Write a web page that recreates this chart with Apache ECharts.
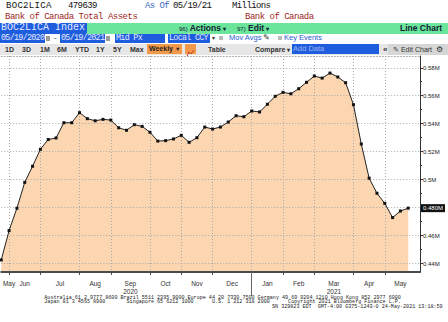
<!DOCTYPE html>
<html><head><meta charset="utf-8">
<script src="https://cdn.jsdelivr.net/npm/echarts@6/dist/echarts.min.js"></script>
<style>
html,body{margin:0;padding:0;background:#fff;width:448px;height:322px;overflow:hidden;}
#chart{position:absolute;left:0;top:0;width:448px;height:322px;}
.t{position:absolute;white-space:pre;}
.mono{font-family:'Liberation Mono','DejaVu Sans Mono',monospace;}
.sans{font-family:'Liberation Sans',Arial,sans-serif;}
.bar{position:absolute;left:0;width:448px;}
.box{position:absolute;background:#1f5ddf;color:#e4e9ff;}
.ico{position:absolute;background:#9a9a9a;}
</style></head><body>
<div id="chart"></div>

<!-- header rows 1-2 -->
<div class="t mono" style="left:6px;top:0;line-height:12px;font-size:9px;letter-spacing:0.3px;color:#111">BOC2LICA</div>
<div class="t mono" id="lastVal" style="left:68px;top:0;line-height:12px;font-size:9px;letter-spacing:-0.6px;color:#111"></div>
<div class="t mono" style="left:145px;top:0;line-height:12px;font-size:9px;letter-spacing:-0.6px;color:#3a68c2">As Of</div>
<div class="t mono" style="left:173px;top:0;line-height:12px;font-size:9px;letter-spacing:-0.6px;color:#111">05/19/21</div>
<div class="t mono" style="left:232px;top:0;line-height:12px;font-size:9px;letter-spacing:-0.6px;color:#111">Millions</div>
<div class="t mono" style="left:5px;top:11px;line-height:12px;font-size:9px;letter-spacing:-0.5px;color:#a11f1f">Bank of Canada Total Assets</div>
<div class="t mono" style="left:245px;top:11px;line-height:12px;font-size:9px;letter-spacing:-0.5px;color:#a11f1f">Bank of Canada</div>

<!-- row 3 -->
<div class="bar" style="top:23px;height:10.5px;background:#6be59b"></div>
<div class="box mono" style="left:0;top:23px;width:87px;height:10.5px;line-height:10.5px;font-size:10px;padding-left:1px;box-sizing:border-box">BOC2LICA Index</div>
<div class="t sans" style="left:179px;top:23px;line-height:10.5px;font-size:8.5px;color:#123;font-weight:bold"><span style="font-size:6px;font-weight:normal">96)</span> Actions <span style="font-size:6px">▾</span></div>
<div class="t sans" style="left:237px;top:23px;line-height:10.5px;font-size:8.5px;color:#123;font-weight:bold"><span style="font-size:6px;font-weight:normal">97)</span> Edit <span style="font-size:6px">▾</span></div>
<div class="t sans" style="left:400px;top:23px;line-height:10.5px;font-size:8.5px;color:#123;font-weight:bold">Line Chart</div>

<!-- row 4 -->
<div class="box mono" style="left:0;top:34px;width:45px;height:9px;line-height:9px;font-size:8.4px;letter-spacing:-0.7px;padding-left:1px;box-sizing:border-box">05/19/2020</div>
<div class="ico" style="left:46px;top:35.5px;width:4px;height:5px"></div>
<div class="t sans" style="left:54px;top:33px;line-height:10px;font-size:8px;color:#333">-</div>
<div class="box mono" style="left:60px;top:34px;width:45px;height:9px;line-height:9px;font-size:8.4px;letter-spacing:-0.7px;padding-left:1px;box-sizing:border-box">05/19/2021</div>
<div class="ico" style="left:106px;top:35.5px;width:4px;height:5px"></div>
<div class="box mono" style="left:115px;top:34px;width:50px;height:9px;line-height:9px;font-size:8.4px;letter-spacing:-0.7px;padding-left:1px;box-sizing:border-box">Mid Px</div>
<div class="box mono" style="left:168px;top:34px;width:42px;height:9px;line-height:9px;font-size:8.4px;letter-spacing:-0.7px;padding-left:1px;box-sizing:border-box">Local CCY</div>
<div class="t sans" style="left:212px;top:33px;line-height:10px;font-size:6px;color:#333">▾</div>
<div class="ico" style="left:219px;top:36px;width:4px;height:4px;background:#bbb"></div>
<div class="t sans" style="left:229px;top:33px;line-height:10px;font-size:7.5px;color:#2a5bd0">Mov Avgs <span style="color:#333">✎</span></div>
<div class="ico" style="left:278px;top:36px;width:4px;height:4px;background:#bbb"></div>
<div class="t sans" style="left:284px;top:33px;line-height:10px;font-size:7.5px;color:#2a5bd0">Key Events</div>

<!-- row 5 -->
<div class="bar" style="top:43.5px;height:11px;background:#e6e6e6"></div>
<div class="t sans" style="left:388px;top:43.5px;width:60px;height:11px;background:#d6d6d6"></div>
<div class="t sans" style="left:5px;top:43.5px;line-height:11px;font-size:7px;color:#333;font-weight:bold">1D</div>
<div class="t sans" style="left:22px;top:43.5px;line-height:11px;font-size:7px;color:#333;font-weight:bold">3D</div>
<div class="t sans" style="left:40px;top:43.5px;line-height:11px;font-size:7px;color:#333;font-weight:bold">1M</div>
<div class="t sans" style="left:57px;top:43.5px;line-height:11px;font-size:7px;color:#333;font-weight:bold">6M</div>
<div class="t sans" style="left:75px;top:43.5px;line-height:11px;font-size:7px;color:#333;font-weight:bold">YTD</div>
<div class="t sans" style="left:96px;top:43.5px;line-height:11px;font-size:7px;color:#333;font-weight:bold">1Y</div>
<div class="t sans" style="left:113px;top:43.5px;line-height:11px;font-size:7px;color:#333;font-weight:bold">5Y</div>
<div class="t sans" style="left:130px;top:43.5px;line-height:11px;font-size:7px;color:#333;font-weight:bold">Max</div>
<div class="t sans" style="left:147px;top:44px;width:35px;height:10px;line-height:10px;font-size:7px;background:#f3994a;color:#222;font-weight:bold;padding-left:2px;box-sizing:border-box">Weekly <span style="font-size:5.5px">▼</span></div>
<div class="t" style="left:185px;top:44px;width:11px;height:10px;background:#f3994a"><svg width="11" height="10"><polyline points="2,8 4,4 6,6 9,2" fill="none" stroke="#c0392b" stroke-width="1"/></svg></div>
<div class="t sans" style="left:208px;top:43.5px;line-height:11px;font-size:7px;color:#333;font-weight:bold">Table</div>
<div class="t sans" style="left:255px;top:43.5px;line-height:11px;font-size:7px;color:#333;font-weight:bold">Compare <span style="font-size:5.5px">▾</span></div>
<div class="box sans" style="left:292px;top:44px;width:87px;height:10px;line-height:10px;font-size:7.5px;color:#9fb6ef;padding-left:1px;box-sizing:border-box">Add Data</div>
<div class="t sans" style="left:383px;top:43.5px;line-height:11px;font-size:8px;color:#333;font-weight:bold">«</div>
<div class="t sans" style="left:393px;top:43.5px;line-height:11px;font-size:7px;color:#333">✎ Edit Chart</div>
<div class="t sans" style="left:436px;top:43.5px;line-height:11px;font-size:7.5px;color:#333">⚙</div>

<!-- footer -->
<div class="t mono" style="left:44.3px;top:294.5px;line-height:6px;font-size:5.08px;color:#222">Australia 61 2 9777 8600 Brazil 5511 2395 9000 Europe 44 20 7330 7500 Germany 49 69 9204 1210 Hong Kong 852 2977 6000</div>
<div class="t mono" style="left:44.3px;top:299.3px;line-height:6px;font-size:5.08px;color:#222">Japan 81 3 4565 8900       Singapore 65 6212 1000      U.S. 1 212 318 2000      Copyright 2021 Bloomberg Finance L.P.</div>
<div class="t mono" style="left:272px;top:304px;line-height:6px;font-size:5.08px;color:#222">SN 329823 EDT  GMT-4:00 G375-1243-0 24-May-2021 13:18:59</div>

<script>
// ---- data ----
const weeks = [
 '2020-05-20','2020-05-27','2020-06-03','2020-06-10','2020-06-17','2020-06-24',
 '2020-07-01','2020-07-08','2020-07-15','2020-07-22','2020-07-29',
 '2020-08-05','2020-08-12','2020-08-19','2020-08-26',
 '2020-09-02','2020-09-09','2020-09-16','2020-09-23','2020-09-30',
 '2020-10-07','2020-10-14','2020-10-21','2020-10-28',
 '2020-11-04','2020-11-11','2020-11-18','2020-11-25',
 '2020-12-02','2020-12-09','2020-12-16','2020-12-23','2020-12-30',
 '2021-01-06','2021-01-13','2021-01-20','2021-01-27',
 '2021-02-03','2021-02-10','2021-02-17','2021-02-24',
 '2021-03-03','2021-03-10','2021-03-17','2021-03-24','2021-03-31',
 '2021-04-07','2021-04-14','2021-04-21','2021-04-28',
 '2021-05-05','2021-05-12','2021-05-19'
];
// Bank of Canada total assets, millions CAD
const assets = [
 442600,463600,479600,498100,509600,521700,
 528700,529800,540700,540700,547900,
 543600,542100,543100,542600,
 537100,535300,539300,538100,533900,
 527600,527900,529100,531700,
 526700,530000,537600,536200,
 537600,541200,545700,545000,549100,
 548400,553900,559600,562400,
 561400,565000,569600,574100,
 572600,576200,573400,569300,553600,
 525500,501100,490300,483100,
 472900,477600,479639
];
const monthNames = ['Jan','Feb','Mar','Apr','May','Jun','Jul','Aug','Sep','Oct','Nov','Dec'];
const yTickValues = [440000,460000,480000,500000,520000,540000,560000,580000];
const yLabelValues = [440000,460000,500000,520000,540000,560000,580000]; // 0.48M covered by last-value box
const yMinorTickValues = [450000,470000,490000,510000,530000,550000,570000];
const lastValue = assets[assets.length - 1];

// ---- axis construction ----
const SLOTS_PER_WEEK = 2;      // half-week resolution so month labels can sit between points
const TAIL_SLOTS = 3;          // axis runs 1.5 weeks past the last observation
const nSlots = (weeks.length - 1) * SLOTS_PER_WEEK + 1 + TAIL_SLOTS;
const slotIds = [];
for (let s = 0; s < nSlots; s++) slotIds.push('s' + s);
const slotData = new Array(nSlots).fill(null);
assets.forEach((v, i) => { slotData[i * SLOTS_PER_WEEK] = v; });

// month boundary = last observation of each month
const boundarySlots = [];
const months = [];
for (let i = 0; i < weeks.length; i++) {
  const key = weeks[i].slice(0, 7);
  if (!months.length || months[months.length - 1].key !== key) months.push({ key: key });
  if (i < weeks.length - 1 && key !== weeks[i + 1].slice(0, 7)) boundarySlots.push(i * SLOTS_PER_WEEK);
}
const boundarySet = new Set(boundarySlots);
const labelMap = {};
const MIN_LABEL_SLOT = 2; // keep first label from being clipped at the left edge
months.forEach((m, k) => {
  const start = k === 0 ? 0 : boundarySlots[k - 1];
  const end = k < boundarySlots.length ? boundarySlots[k] : nSlots - 1;
  m.slot = Math.max(Math.floor((start + end) / 2), MIN_LABEL_SLOT);
  m.year = m.key.slice(0, 4);
  labelMap[m.slot] = monthNames[parseInt(m.key.slice(5, 7), 10) - 1];
});
const years = [...new Set(months.map(m => m.year))];
let yearBoundarySlot = -1;
years.forEach(y => {
  const ms = months.filter(m => m.year === y);
  const mid = ms[Math.floor(ms.length / 2)];
  labelMap[mid.slot] += '\n' + y;
});
for (let k = 1; k < months.length; k++) {
  if (months[k].year !== months[k - 1].year) yearBoundarySlot = boundarySlots[k - 1];
}

document.getElementById('lastVal').textContent = String(lastValue);

const FONT = "'Liberation Sans', Arial, sans-serif";
const GRID_COLOR = '#a8a8a8';
const Y_MIN = 434000, Y_MAX = 588400;
const chart = echarts.init(document.getElementById('chart'), null, { renderer: 'svg', width: 448, height: 322 });
chart.setOption({
  animation: false,
  grid: { left: 0, right: 25, top: 56, bottom: 50, containLabel: false },
  xAxis: [
    { type: 'category', data: slotIds, boundaryGap: false, position: 'bottom', z: 3,
      axisLine: { show: true, lineStyle: { color: '#4a4a4a', width: 2 } },
      axisTick: { show: true, interval: (i) => boundarySet.has(i), length: 3, lineStyle: { color: '#4a4a4a' } },
      axisLabel: { show: true, interval: (i) => labelMap[i] !== undefined, formatter: (v, i) => labelMap[i] || '',
        fontSize: 6.5, color: '#333', lineHeight: 8, margin: 7, fontFamily: FONT },
      splitLine: { show: true, interval: (i) => boundarySet.has(i), lineStyle: { color: GRID_COLOR, type: [1, 2], width: 1 } } },
    { type: 'category', data: slotIds, boundaryGap: false, position: 'top', z: 3,
      axisLine: { show: true, lineStyle: { color: GRID_COLOR, type: [1, 2], width: 1 } },
      axisTick: { show: false }, axisLabel: { show: false }, splitLine: { show: false } },
    { type: 'category', data: slotIds, boundaryGap: false, position: 'bottom', z: 3,
      axisLine: { show: false },
      axisTick: { show: true, interval: (i) => i === yearBoundarySlot, length: 24, lineStyle: { color: '#666' } },
      axisLabel: { show: false }, splitLine: { show: false } }
  ],
  yAxis: [
    { type: 'value', position: 'right', min: Y_MIN, max: Y_MAX, splitNumber: 8, z: 3,
      axisLine: { show: true, lineStyle: { color: '#333', width: 1 } },
      axisTick: { show: true, customValues: yTickValues, length: 3, lineStyle: { color: '#333' } },
      axisLabel: { show: true, customValues: yLabelValues, formatter: (v) => (v / 1e6) + 'M',
        fontSize: 6, color: '#222', margin: 3, fontFamily: FONT },
      splitLine: { show: true, lineStyle: { color: GRID_COLOR, type: [1, 2], width: 1 } } },
    { type: 'value', position: 'right', min: Y_MIN, max: Y_MAX, z: 4,
      axisLine: { show: false },
      axisTick: { show: true, customValues: yMinorTickValues, length: 2, lineStyle: { color: '#333' } },
      axisLabel: { show: true, customValues: [lastValue], formatter: (v) => (v / 1e6).toFixed(3) + 'M',
        color: '#fff', backgroundColor: '#111', fontSize: 6, lineHeight: 7, padding: [0.5, 2], margin: 1, fontFamily: FONT },
      splitLine: { show: false } }
  ],
  series: [
    { type: 'line', data: slotData, connectNulls: true, showSymbol: false, silent: true, z: 1,
      lineStyle: { width: 0 }, areaStyle: { color: '#fcd5b1', opacity: 1, origin: 'start' } },
    { type: 'line', data: slotData, connectNulls: true, showAllSymbol: true, symbol: 'rect', symbolSize: 3, z: 5,
      itemStyle: { color: '#111' }, lineStyle: { color: '#222', width: 1 } }
  ]
});
</script>
</body></html>
